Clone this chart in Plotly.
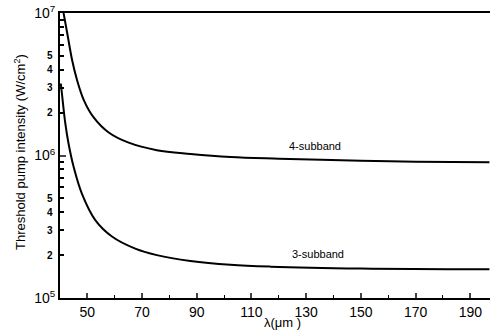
import math
import plotly.graph_objects as go

# 4-subband curve
lam4 = [41.3, 42.6, 44.4, 46.2, 48.7, 52.3, 57.8, 65.1, 75.4, 87.7, 102.3, 120.0, 150.0, 170.0, 197.0]
int4 = [1.0e7, 7.3e6, 4.7e6, 3.4e6, 2.45e6, 1.85e6, 1.45e6, 1.23e6, 1.09e6, 1.025e6, 0.975e6, 0.95e6, 0.92e6, 0.905e6, 0.895e6]
# 3-subband curve
lam3 = [40.3, 40.7, 41.9, 43.1, 45.0, 48.0, 52.9, 59.0, 67.5, 75.4, 87.7, 102.3, 116.9, 150.0, 197.0]
int3 = [3.2e6, 2.73e6, 1.7e6, 1.22e6, 0.83e6, 0.54e6, 0.352e6, 0.27e6, 0.222e6, 0.2e6, 0.182e6, 0.171e6, 0.166e6, 0.161e6, 0.159e6]

x_ticks = [50, 70, 90, 110, 130, 150, 170, 190]
x_minor = [60, 80, 100, 120, 140, 160, 180]
y_decades = [5, 6, 7]
minor_labels = [2, 3, 4, 5]

fig = go.Figure()
for lx, ly in [(lam4, int4), (lam3, int3)]:
    fig.add_trace(go.Scatter(x=lx, y=ly, mode="lines",
                             line=dict(color="black", width=2, shape="spline", smoothing=1.0),
                             showlegend=False))
fig.add_trace(go.Scatter(x=[x_ticks[0]], y=[int4[-1]], xaxis="x2", mode="markers",
                         marker=dict(opacity=0), showlegend=False, hoverinfo="skip"))

ymajor = [10 ** d for d in y_decades]
ytext = [f"10<sup>{d}</sup>" for d in y_decades]
yminor = [m * 10 ** d for d in y_decades[:-1] for m in range(2, 10)]

pw, ph = 430, 285
anns = [
    dict(text="4-subband", x=133.4, y=6.067, xref="x", yref="y", showarrow=False,
         font=dict(size=11)),
    dict(text="3-subband", x=134.2, y=5.309, xref="x", yref="y", showarrow=False,
         font=dict(size=11)),
    dict(text="λ(μm )", x=(282 - 60) / pw, y=-(322 - 298) / ph, xref="paper", yref="paper",
         xanchor="center", yanchor="middle", showarrow=False, font=dict(size=13)),
    dict(text="Threshold pump intensity (W/cm<sup>2</sup>)", x=-(60 - 20) / pw, y=(298 - 152) / ph,
         xref="paper", yref="paper", xanchor="center", yanchor="middle", textangle=-90,
         showarrow=False, font=dict(size=13)),
]
for d in y_decades[:-1]:
    for m in minor_labels:
        anns.append(dict(text=str(m), x=-(60 - 50) / pw, y=math.log10(m * 10 ** d),
                         xref="paper", yref="y", xanchor="center", yanchor="middle",
                         showarrow=False, font=dict(size=10, weight="bold")))

fig.update_layout(
    width=490, height=334,
    margin=dict(l=60, r=0, t=13, b=36),
    paper_bgcolor="white", plot_bgcolor="white",
    font=dict(family="Liberation Sans, Arial", color="black", size=14),
    xaxis=dict(range=[40, 197.2], tickvals=x_ticks, ticks="inside", ticklen=5, tickwidth=1.5,
               showline=True, linecolor="black", linewidth=2, mirror=True, showgrid=False,
               zeroline=False, tickfont=dict(size=14)),
    xaxis2=dict(range=[40, 197.2], overlaying="x", anchor="y", side="bottom",
                tickvals=x_minor, ticks="inside", ticklen=3, tickwidth=1, tickcolor="black",
                showticklabels=False, showgrid=False, zeroline=False, showline=False),
    yaxis=dict(type="log", range=[5, 7], tickvals=ymajor, ticktext=ytext, ticks="inside",
               ticklen=6, tickwidth=1.5, showline=True, linecolor="black", linewidth=2,
               showgrid=False, zeroline=False, tickfont=dict(size=14),
               minor=dict(tickvals=yminor, ticks="inside", ticklen=4, tickcolor="black")),
    annotations=anns,
)
fig.write_html("out.html")
